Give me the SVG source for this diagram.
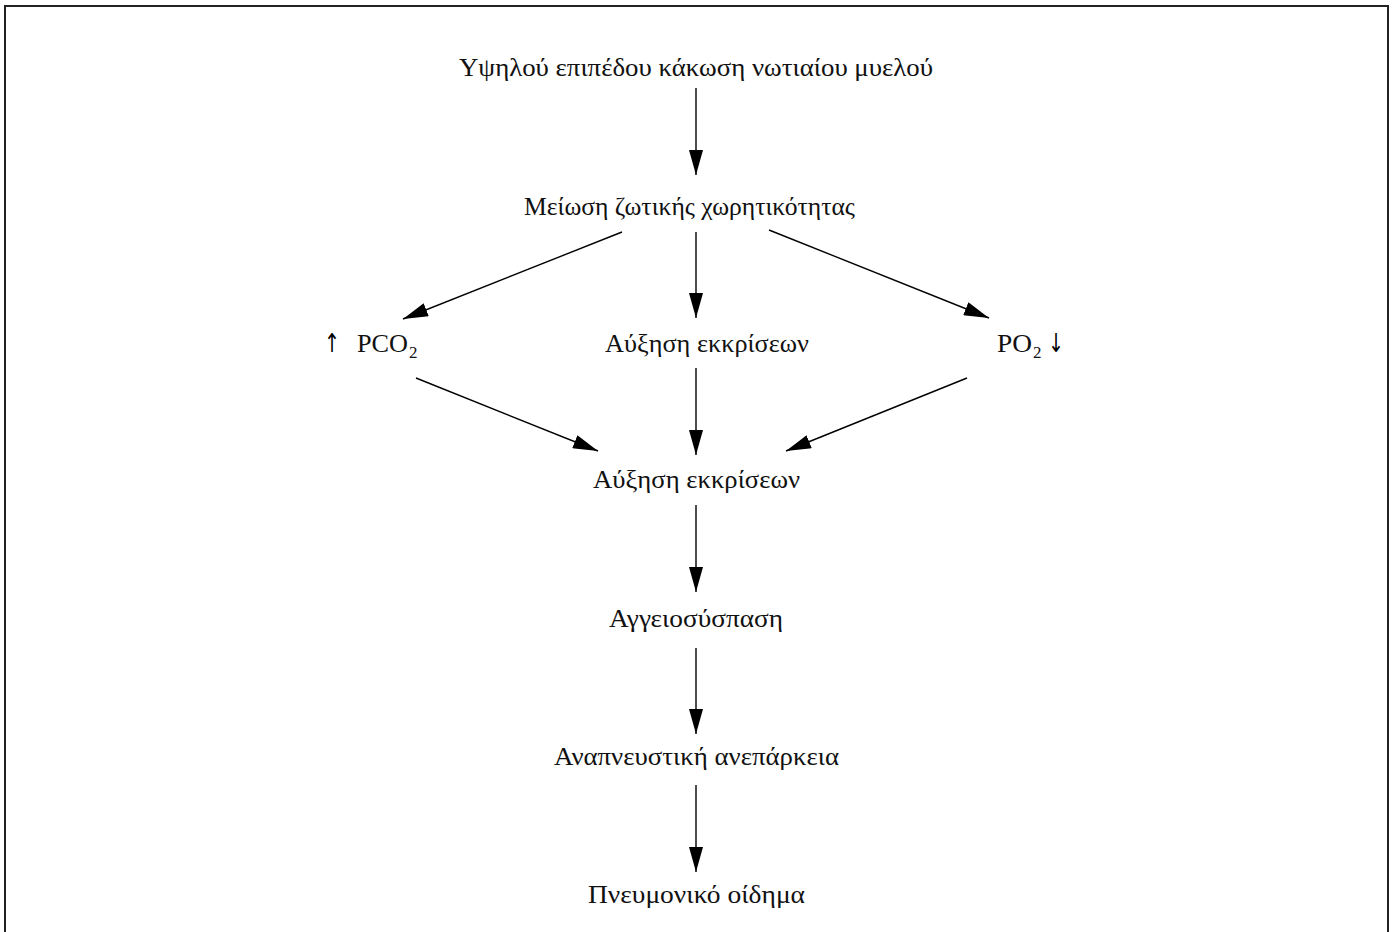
<svg xmlns="http://www.w3.org/2000/svg" width="1393" height="932" viewBox="0 0 1393 932">
<style>
.t{font-family:"Liberation Serif","DejaVu Serif",serif;font-size:25px;fill:#111}
.s{font-size:17px}
.a{font-family:"DejaVu Sans","Noto Sans",sans-serif;font-size:26px;fill:#000}
.c{stroke:#000;stroke-width:1.4;fill:none}
</style>
<defs>
<marker id="ah" viewBox="0 0 25 14" refX="25" refY="7" markerWidth="25" markerHeight="14" markerUnits="userSpaceOnUse" orient="auto">
<path d="M0,0 L25,7 L0,14 Z" fill="#000"/>
</marker>
</defs>
<rect x="0" y="0" width="1393" height="932" fill="#fff"/>
<rect x="5" y="6" width="1383" height="940" fill="none" stroke="#222" stroke-width="2"/>
<g id="connectors">
<line class="c" x1="696" y1="88" x2="696" y2="175" marker-end="url(#ah)"/>
<line class="c" x1="622" y1="232" x2="403" y2="319" marker-end="url(#ah)"/>
<line class="c" x1="696" y1="232" x2="696" y2="318" marker-end="url(#ah)"/>
<line class="c" x1="769" y1="230" x2="989" y2="318" marker-end="url(#ah)"/>
<line class="c" x1="416" y1="378" x2="598" y2="451" marker-end="url(#ah)"/>
<line class="c" x1="696" y1="368" x2="696" y2="455" marker-end="url(#ah)"/>
<line class="c" x1="967" y1="378" x2="786" y2="451" marker-end="url(#ah)"/>
<line class="c" x1="696" y1="505" x2="696" y2="592" marker-end="url(#ah)"/>
<line class="c" x1="696" y1="648" x2="696" y2="734" marker-end="url(#ah)"/>
<line class="c" x1="696" y1="785" x2="696" y2="872" marker-end="url(#ah)"/>
</g>
<g id="n1"><text class="t" x="459" y="76" textLength="474" lengthAdjust="spacingAndGlyphs">Υψηλού επιπέδου κάκωση νωτιαίου μυελού</text></g>
<g id="n2"><text class="t" x="524" y="215" textLength="331" lengthAdjust="spacingAndGlyphs">Μείωση ζωτικής χωρητικότητας</text></g>
<g id="n3"><text class="t" y="352"><tspan class="a" x="324" textLength="16" lengthAdjust="spacingAndGlyphs">↑︎</tspan><tspan x="357" textLength="51" lengthAdjust="spacingAndGlyphs">PCO</tspan><tspan class="s" x="409" dy="6">2</tspan></text></g>
<g id="n4"><text class="t" x="605" y="352" textLength="204" lengthAdjust="spacingAndGlyphs">Αύξηση εκκρίσεων</text></g>
<g id="n5"><text class="t" y="352"><tspan x="997" textLength="35" lengthAdjust="spacingAndGlyphs">PO</tspan><tspan class="s" x="1033" dy="6">2</tspan><tspan class="a" x="1048" dy="-6" textLength="16" lengthAdjust="spacingAndGlyphs">↓︎</tspan></text></g>
<g id="n6"><text class="t" x="593" y="488" textLength="207" lengthAdjust="spacingAndGlyphs">Αύξηση εκκρίσεων</text></g>
<g id="n7"><text class="t" x="609" y="627" textLength="174" lengthAdjust="spacingAndGlyphs">Αγγειοσύσπαση</text></g>
<g id="n8"><text class="t" x="554" y="765" textLength="285" lengthAdjust="spacingAndGlyphs">Αναπνευστική ανεπάρκεια</text></g>
<g id="n9"><text class="t" x="588" y="903" textLength="217" lengthAdjust="spacingAndGlyphs">Πνευμονικό οίδημα</text></g>
</svg>
